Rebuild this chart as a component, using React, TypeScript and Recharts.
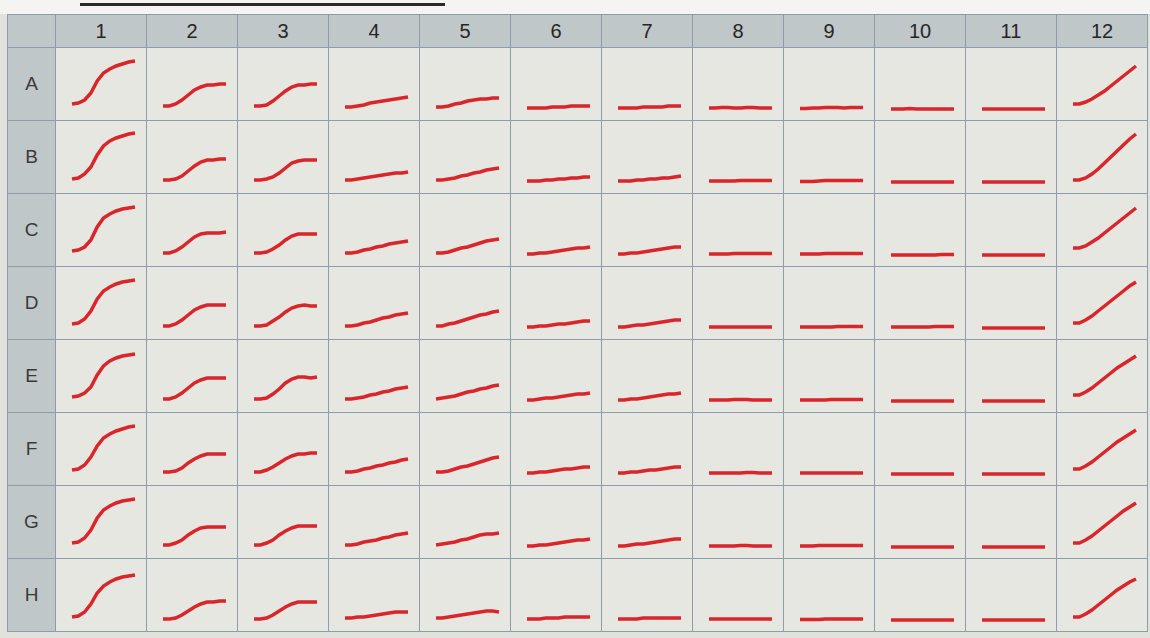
import { LineChart, Line, XAxis, YAxis } from "recharts";

// kinetic read, 11 time points per well (rise above blank, arbitrary units)
const timePoints = [0, 1, 2, 3, 4, 5, 6, 7, 8, 9, 10];
const rowLabels = ["A", "B", "C", "D", "E", "F", "G", "H"];
const colLabels = ["1", "2", "3", "4", "5", "6", "7", "8", "9", "10", "11", "12"];

const rowA = [
  [5, 6, 9, 16, 28, 36, 40, 43, 45, 47, 48],
  [3, 3, 5, 9, 14, 19, 22, 24, 24, 25, 25],
  [3, 3, 4, 8, 13, 18, 22, 24, 24, 25, 25],
  [2, 2, 3, 4, 6, 7, 8, 9, 10, 11, 12],
  [2, 2, 3, 5, 6, 8, 9, 10, 10, 11, 11],
  [1, 1, 1, 1, 2, 2, 2, 3, 3, 3, 3],
  [1, 1, 1, 1, 2, 2, 2, 2, 3, 3, 3],
  [1, 1, 1.5, 1.5, 1, 1, 1.5, 1.5, 1, 1, 1],
  [0.5, 0.5, 1, 1, 1.5, 1.5, 1.5, 1, 1.5, 1.5, 1.5],
  [0, 0, 0, 0.5, 0, 0, 0, 0, 0, 0, 0],
  [0, 0, 0, 0, 0, 0, 0, 0, 0, 0, 0],
  [5, 5, 7, 10, 14, 18, 23, 28, 33, 38, 43],
];
const rowB = [
  [3, 4, 8, 15, 27, 36, 41, 44, 46, 48, 49],
  [2, 2, 3, 6, 11, 16, 20, 22, 22, 23, 23],
  [2, 2, 3, 5, 9, 14, 19, 21, 22, 22, 22],
  [2, 2, 3, 4, 5, 6, 7, 8, 9, 9, 10],
  [2, 2, 3, 4, 6, 7, 9, 10, 12, 13, 14],
  [1, 1, 1, 2, 2, 3, 3, 4, 4, 5, 5],
  [1, 1, 1, 2, 2, 3, 3, 4, 4, 5, 6],
  [1, 1, 1, 1, 1, 1.5, 1.5, 1.5, 1.5, 1.5, 1.5],
  [0.5, 0.5, 0.5, 1, 1.5, 1.5, 1.5, 1.5, 1.5, 1.5, 1.5],
  [0, 0, 0, 0, 0, 0, 0, 0, 0, 0, 0],
  [0, 0, 0, 0, 0, 0, 0, 0, 0, 0, 0],
  [2, 2, 4, 8, 13, 19, 25, 31, 37, 43, 48],
];
const rowC = [
  [4, 5, 8, 15, 28, 37, 41, 44, 46, 47, 48],
  [2, 2, 4, 8, 13, 18, 21, 22, 22, 22, 23],
  [2, 2, 3, 6, 10, 15, 19, 21, 21, 21, 21],
  [2, 2, 3, 5, 6, 8, 9, 11, 12, 13, 14],
  [2, 2, 3, 5, 7, 8, 10, 12, 14, 15, 16],
  [1, 1, 2, 2, 3, 4, 5, 6, 7, 7, 8],
  [1, 1, 2, 2, 3, 4, 5, 6, 7, 8, 8],
  [1, 1, 1, 1, 1.5, 1.5, 1.5, 1.5, 1.5, 1.5, 1.5],
  [1, 1, 1, 1, 1.5, 1.5, 1.5, 1.5, 1.5, 1.5, 1.5],
  [0, 0, 0, 0, 0, 0, 0, 0, 0.5, 0.5, 0.5],
  [0, 0, 0, 0, 0, 0, 0, 0, 0, 0, 0],
  [7, 7, 9, 13, 17, 22, 27, 32, 37, 42, 47],
];
const rowD = [
  [4, 5, 9, 17, 29, 37, 41, 44, 46, 47, 48],
  [2, 2, 4, 8, 13, 18, 21, 23, 23, 23, 23],
  [2, 2, 3, 7, 11, 16, 20, 22, 23, 22, 22],
  [2, 2, 3, 5, 6, 8, 10, 11, 13, 14, 15],
  [2, 2, 4, 5, 7, 9, 11, 13, 14, 16, 17],
  [1, 1, 2, 2, 3, 4, 4, 5, 6, 7, 7],
  [1, 1, 2, 3, 3, 4, 5, 6, 7, 8, 8],
  [1, 1, 1, 1, 1, 1, 1, 1, 1, 1, 1],
  [1, 1, 1, 1, 1, 1, 1.5, 1.5, 1.5, 1.5, 1.5],
  [1, 1, 1, 1, 1, 1, 1, 1.5, 1.5, 1.5, 1.5],
  [0, 0, 0, 0, 0, 0, 0, 0, 0, 0, 0],
  [5, 5, 8, 12, 17, 22, 27, 32, 37, 42, 46],
];
const rowE = [
  [4, 5, 8, 14, 26, 35, 40, 43, 45, 46, 47],
  [2, 2, 4, 8, 13, 18, 21, 23, 23, 23, 23],
  [2, 2, 3, 7, 12, 18, 22, 24, 24, 23, 24],
  [2, 2, 3, 4, 6, 7, 9, 10, 12, 13, 14],
  [2, 3, 4, 5, 7, 9, 10, 12, 13, 15, 16],
  [1, 1, 2, 3, 3, 4, 5, 6, 7, 7, 8],
  [1, 1, 2, 2, 3, 4, 5, 6, 7, 7, 8],
  [1, 1, 1, 1, 1.5, 1.5, 1.5, 1, 1, 1, 1],
  [1, 1, 1, 1, 1, 1.5, 1.5, 1.5, 1.5, 1.5, 1.5],
  [0, 0, 0, 0, 0, 0, 0, 0, 0, 0, 0],
  [0, 0, 0, 0, 0, 0, 0, 0, 0, 0, 0],
  [6, 6, 9, 13, 18, 23, 28, 33, 37, 41, 45],
];
const rowF = [
  [4, 5, 9, 17, 28, 36, 40, 43, 45, 47, 48],
  [2, 2, 3, 6, 11, 15, 18, 20, 20, 20, 20],
  [2, 2, 4, 7, 11, 15, 18, 20, 20, 21, 21],
  [2, 2, 3, 5, 6, 8, 9, 11, 12, 14, 15],
  [2, 2, 3, 5, 7, 8, 10, 12, 14, 16, 17],
  [1, 1, 2, 2, 3, 4, 5, 5, 6, 7, 7],
  [1, 1, 2, 2, 3, 4, 4, 5, 6, 7, 7],
  [1, 1, 1, 1, 1, 1, 1.5, 1.5, 1, 1, 1],
  [1, 1, 1, 1, 1, 1, 1, 1, 1, 1, 1],
  [0, 0, 0, 0, 0, 0, 0, 0, 0, 0, 0],
  [0, 0, 0, 0, 0, 0, 0, 0, 0, 0, 0],
  [5, 5, 8, 12, 17, 22, 27, 32, 36, 40, 44],
];
const rowG = [
  [4, 5, 9, 17, 29, 37, 41, 44, 46, 47, 48],
  [2, 2, 4, 7, 12, 16, 19, 20, 20, 20, 20],
  [2, 2, 4, 7, 12, 16, 19, 21, 21, 21, 21],
  [2, 2, 3, 5, 6, 7, 9, 10, 12, 13, 14],
  [2, 3, 4, 5, 7, 8, 10, 12, 13, 13, 14],
  [1, 1, 2, 2, 3, 4, 5, 6, 7, 7, 8],
  [1, 1, 2, 3, 3, 4, 5, 6, 7, 8, 8],
  [1, 1, 1, 1, 1, 1.5, 1.5, 1, 1, 1, 1],
  [1, 1, 1, 1.5, 1.5, 1.5, 1.5, 1.5, 1.5, 1.5, 1.5],
  [0, 0, 0, 0, 0, 0, 0, 0, 0, 0, 0],
  [0, 0, 0, 0, 0, 0, 0, 0, 0, 0, 0],
  [4, 4, 7, 11, 16, 21, 26, 31, 36, 40, 44],
];
const rowH = [
  [3, 4, 8, 16, 27, 34, 38, 41, 43, 44, 45],
  [1, 1, 2, 5, 9, 13, 16, 18, 18, 19, 19],
  [1, 1, 2, 5, 9, 13, 16, 18, 18, 18, 18],
  [2, 2, 3, 3, 4, 5, 6, 7, 8, 8, 8],
  [2, 2, 3, 4, 5, 6, 7, 8, 9, 9, 8],
  [1, 1, 1, 2, 2, 2, 3, 3, 3, 3, 3],
  [1, 1, 1, 1, 2, 2, 2, 2, 2, 2, 2],
  [1, 1, 1, 1, 1, 1, 1, 1, 1, 1, 1],
  [0.5, 0.5, 0.5, 0.5, 1, 1, 1, 1, 1, 1, 1],
  [0, 0, 0, 0, 0, 0, 0, 0, 0, 0, 0],
  [0, 0, 0, 0, 0, 0, 0, 0, 0, 0, 0],
  [3, 3, 6, 10, 15, 20, 25, 30, 34, 38, 41],
];

const plate = [rowA, rowB, rowC, rowD, rowE, rowF, rowG, rowH];

const LINE = "#d8262b";
const GRID = "#8d9bab";
const HEAD_BG = "#c0c7c8";
const WELL_BG = "#e7e7e1";
const COL_W = 91;
const ROW_H = 73;
const HEAD_H = 33;
const LABEL_W = 48;

function Well({ values }: { values: number[] }) {
  const data = timePoints.map((t, i) => ({ t, v: values[i] }));
  return (
    <LineChart width={COL_W - 1} height={ROW_H - 1} data={data} margin={{ top: 8, right: 11, bottom: 11, left: 16 }}>
      <XAxis dataKey="t" type="number" domain={[0, 10]} hide />
      <YAxis type="number" domain={[0, 53]} hide />
      <Line type="linear" dataKey="v" stroke={LINE} strokeWidth={3.5} dot={false} isAnimationActive={false} />
    </LineChart>
  );
}

export default function App() {
  const cell = { borderRight: `1px solid ${GRID}`, borderBottom: `1px solid ${GRID}`, boxSizing: "border-box" as const };
  return (
    <div style={{ position: "absolute", left: 0, top: 0, width: 1150, height: 638, background: "#e2e2dd", overflow: "hidden", fontFamily: "'Liberation Sans', Arial, sans-serif" }}>
      <div style={{ position: "absolute", left: 0, top: 0, width: 1150, height: 14, background: "#f4f4f2" }} />
      <div style={{ position: "absolute", left: 80, top: 3, width: 365, height: 3, background: "#2a2a2a" }} />
      <div
        style={{
          position: "absolute",
          left: 7,
          top: 14,
          display: "grid",
          gridTemplateColumns: `${LABEL_W}px repeat(12, ${COL_W}px)`,
          gridTemplateRows: `${HEAD_H}px repeat(8, ${ROW_H}px)`,
          borderTop: `1px solid ${GRID}`,
          borderLeft: `1px solid ${GRID}`,
        }}
      >
        <div style={{ ...cell, background: HEAD_BG }} />
        {colLabels.map((c) => (
          <div key={c} style={{ ...cell, background: HEAD_BG, display: "flex", alignItems: "center", justifyContent: "center", fontSize: 20, color: "#262626" }}>
            {c}
          </div>
        ))}
        {rowLabels.map((r, ri) => [
          <div key={r} style={{ ...cell, background: HEAD_BG, display: "flex", alignItems: "center", justifyContent: "center", fontSize: 19, color: "#3a3a3a" }}>
            {r}
          </div>,
          ...plate[ri].map((vals, ci) => (
            <div key={`${r}${ci}`} style={{ ...cell, background: WELL_BG }}>
              <Well values={vals} />
            </div>
          )),
        ])}
      </div>
    </div>
  );
}
